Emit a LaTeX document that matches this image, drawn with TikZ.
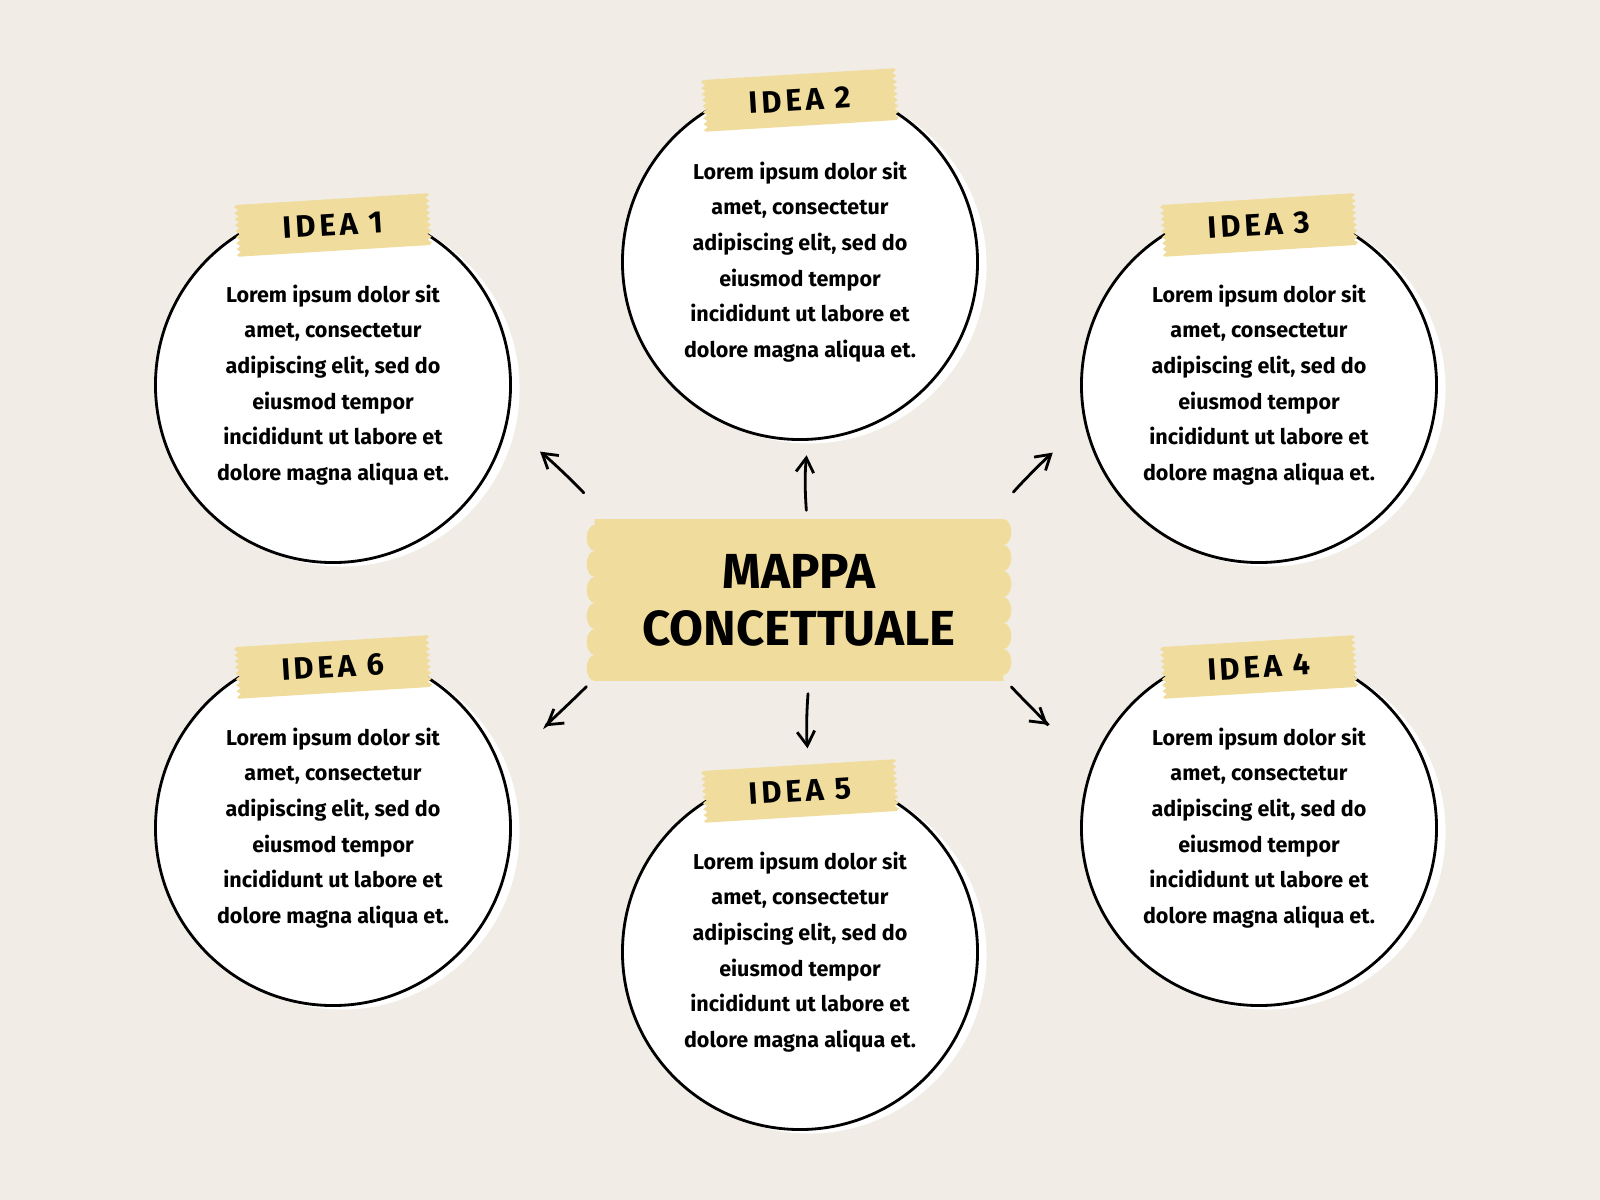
\documentclass[tikz,border=0pt]{standalone}
\usepackage{fontspec}
\setmainfont{Fira Sans}
\newfontfamily\tagfont[LetterSpace=12]{Fira Sans}
\usetikzlibrary{backgrounds}
\usetikzlibrary{arrows.meta}
\usetikzlibrary{decorations.pathmorphing}
\pgfdeclarelayer{tapes}
\pgfsetlayers{background,tapes,main}
\definecolor{paper}{HTML}{F1EDE6}
\definecolor{tape}{HTML}{F0DC9C}
\newcommand{\loremtext}{Lorem ipsum dolor sit\\amet, consectetur\\adipiscing elit, sed do\\eiusmod tempor\\incididunt ut labore et\\dolore magna aliqua et.}
\tikzstyle{idea}=[circle, draw=black, line width=2pt, fill=white, minimum size=8.875cm, inner sep=0pt, align=center, font=\bfseries\fontsize{15.3}{25.4}\selectfont]
\tikzstyle{halo}=[circle, fill=white, minimum size=8.875cm, inner sep=0pt]
\tikzstyle{tag}=[rotate=3.5, minimum width=4.77cm, minimum height=1.28cm, inner sep=0pt, font=\tagfont\bfseries\fontsize{22}{22}\selectfont]
\tikzstyle{mapbox}=[minimum width=10.2cm, minimum height=4.03cm, inner sep=0pt, align=center, font=\bfseries\fontsize{35}{40.6}\selectfont]
\tikzstyle{torn}=[fill=tape, decoration={zigzag, segment length=0.15cm, amplitude=0.05cm}]
\tikzstyle{wavy}=[fill=tape, decoration={bumps, segment length=1.3cm, amplitude=0.2cm}]
\tikzstyle{link}=[-{Straight Barb[length=0.36cm, width=0.44cm]}, line width=2pt, line cap=round]

\begin{document}
\begin{tikzpicture}[x=0.025cm, y=-0.025cm]
	\begin{scope}[on background layer]
	\fill[paper] (0,0) rectangle (1600,1200);
	\draw (342,389) node[halo] (h1) {};
	\draw (809,266) node[halo] (h2) {};
	\draw (1268,389) node[halo] (h3) {};
	\draw (1268,832) node[halo] (h4) {};
	\draw (809,956) node[halo] (h5) {};
	\draw (342,832) node[halo] (h6) {};
	%
	\draw (333,385) node[idea] (i1) {\loremtext};
	\draw (800,262) node[idea] (i2) {\loremtext};
	\draw (1259,385) node[idea] (i3) {\loremtext};
	\draw (1259,828) node[idea] (i4) {\loremtext};
	\draw (800,952) node[idea] (i5) {\loremtext};
	\draw (333,828) node[idea] (i6) {\loremtext};
	\end{scope}
	%
	\draw (333,225) node[tag] (t1) {IDEA 1};
	\draw (800,100) node[tag] (t2) {IDEA 2};
	\draw (1259,225) node[tag] (t3) {IDEA 3};
	\draw (1259,667) node[tag] (t4) {IDEA 4};
	\draw (800,791) node[tag] (t5) {IDEA 5};
	\draw (333,667) node[tag] (t6) {IDEA 6};
	\draw (799,600) node[mapbox] (mappa) {MAPPA\\CONCETTUALE};
	%
	\begin{pgfonlayer}{tapes}
	\fill[torn] (t1.north west) -- (t1.north east) decorate {-- (t1.south east)} -- (t1.south west) decorate {-- (t1.north west)} -- cycle;
	\fill[torn] (t2.north west) -- (t2.north east) decorate {-- (t2.south east)} -- (t2.south west) decorate {-- (t2.north west)} -- cycle;
	\fill[torn] (t3.north west) -- (t3.north east) decorate {-- (t3.south east)} -- (t3.south west) decorate {-- (t3.north west)} -- cycle;
	\fill[torn] (t4.north west) -- (t4.north east) decorate {-- (t4.south east)} -- (t4.south west) decorate {-- (t4.north west)} -- cycle;
	\fill[torn] (t5.north west) -- (t5.north east) decorate {-- (t5.south east)} -- (t5.south west) decorate {-- (t5.north west)} -- cycle;
	\fill[torn] (t6.north west) -- (t6.north east) decorate {-- (t6.south east)} -- (t6.south west) decorate {-- (t6.north west)} -- cycle;
	\fill[wavy] (mappa.north west) -- (mappa.north east) decorate {-- (mappa.south east)} -- (mappa.south west) decorate {-- (mappa.north west)} -- cycle;
	\end{pgfonlayer}
	%
	\draw[link, shorten <=0.9cm, shorten >=1.05cm] (mappa.157) to [bend right=4] (i1.-13);
	\draw[link, shorten <=0.22cm, shorten >=0.36cm] ([xshift=0.2cm]mappa.north) to [bend left=5] ([xshift=0.2cm]i2.south);
	\draw[link, shorten <=0.9cm, shorten >=1.05cm] (mappa.23) to [bend left=4] (i3.193);
	\draw[link, shorten <=0.29cm, shorten >=1.45cm] (mappa.-21) to [bend right=4] (i4.158);
	\draw[link, shorten <=0.32cm, shorten >=0.62cm] ([xshift=0.25cm]mappa.south) to [bend right=5] ([xshift=0.25cm]i5.north);
	\draw[link, shorten <=0.29cm, shorten >=1.45cm] (mappa.-159) to [bend left=4] (i6.22);
\end{tikzpicture}
\end{document}
